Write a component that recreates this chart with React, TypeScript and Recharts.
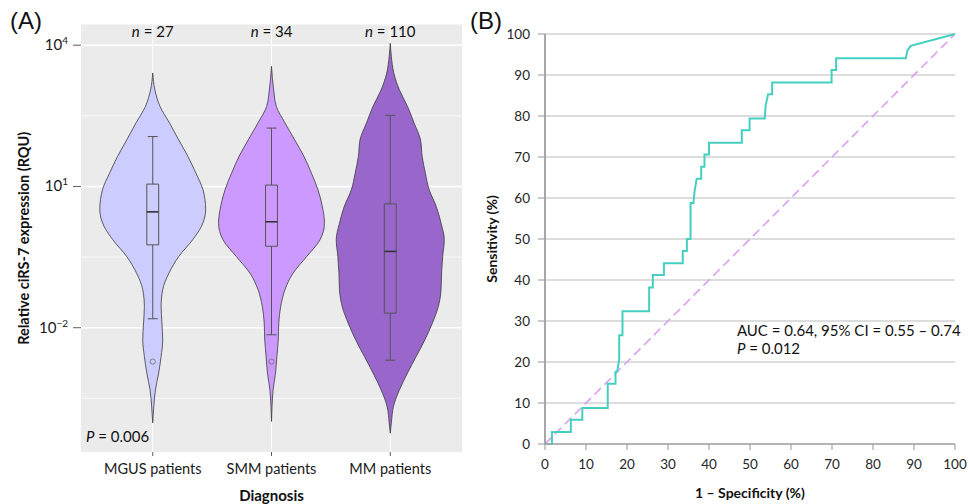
import React from 'react';
import {
  ComposedChart,
  LineChart,
  Line,
  Area,
  XAxis,
  YAxis,
  CartesianGrid,
  ReferenceLine,
  ReferenceArea,
  ReferenceDot,
} from 'recharts';

const FONT = "Lato, 'Open Sans', sans-serif";

// ---------- panel A: violin plots (values in log10 RQU) ----------
const groups = ['MGUS patients', 'SMM patients', 'MM patients'];
const groupN = [27, 34, 110];
const groupFill = ['#ccccff', '#cc99ff', '#9966cc'];

// [log10 RQU, relative half-width of the violin]
const mgusViolin = [
  [3.41, 0], [3.05, 0.04], [2.7, 0.135], [2.35, 0.31], [1.99, 0.48], [1.64, 0.65],
  [1.28, 0.8], [0.93, 0.93], [0.51, 0.98], [0.15, 0.9], [-0.13, 0.74], [-0.49, 0.48],
  [-0.84, 0.3], [-1.19, 0.185], [-1.55, 0.155], [-1.9, 0.17], [-2.26, 0.185],
  [-2.61, 0.155], [-2.96, 0.11], [-3.32, 0.05], [-3.67, 0.02], [-4.02, 0],
];
const smmViolin = [
  [3.55, 0], [3.05, 0.04], [2.7, 0.09], [2.35, 0.25], [1.99, 0.43], [1.64, 0.6],
  [1.28, 0.74], [0.93, 0.86], [0.58, 0.94], [0.22, 0.98], [-0.13, 0.9], [-0.49, 0.65],
  [-0.84, 0.4], [-1.19, 0.25], [-1.55, 0.17], [-1.9, 0.135], [-2.26, 0.125],
  [-2.61, 0.1], [-2.96, 0.075], [-3.32, 0.03], [-3.67, 0.01], [-3.99, 0],
];
const mmViolin = [
  [4.04, 0], [3.76, 0.02], [3.41, 0.065], [3.05, 0.17], [2.7, 0.32], [2.35, 0.44],
  [1.99, 0.56], [1.64, 0.59], [1.28, 0.65], [0.93, 0.72], [0.58, 0.85], [0.22, 0.94],
  [-0.13, 1], [-0.49, 0.97], [-0.84, 0.95], [-1.19, 0.94], [-1.55, 0.89], [-1.9, 0.78],
  [-2.26, 0.64], [-2.61, 0.48], [-2.96, 0.32], [-3.32, 0.17], [-3.67, 0.06],
  [-4.02, 0.02], [-4.24, 0],
];

// [lower whisker, Q1, median, Q3, upper whisker]
const mgusBox = [-1.81, -0.24, 0.46, 1.05, 2.06];
const smmBox = [-2.15, -0.27, 0.25, 1.03, 2.24];
const mmBox = [-2.69, -1.69, -0.38, 0.63, 2.51];

// [group position, log10 RQU]
const outliers = [[1, -2.72], [2, -2.72]];

const logTicks = [-3.5, -2, -0.5, 1, 2.5, 4];
const majorLogTicks = [-2, 1, 4];

const violins = [mgusViolin, smmViolin, mmViolin];
const boxes = [mgusBox, smmBox, mmBox];
const violinRows = violins.flatMap((v, g) => v.map(([lv, d]) => ({ lv, g, d })));

const VW = 0.455;
const BOX_W = 0.05;
const CAP_W = 0.042;

// ---------- panel B: ROC curve ----------
const rocFpr = [
  0, 1.7, 1.7, 6.3, 6.3, 9.1, 9.1, 15.3, 15.3, 17.2, 17.2, 17.6, 18.1, 18.1, 18.9, 18.9,
  25.4, 25.4, 26.3, 26.3, 29, 29, 33.6, 33.6, 34.6, 34.6, 35.5, 35.5, 36.2, 36.5, 37,
  38.1, 38.1, 38.9, 38.9, 40, 40, 48, 48, 49.9, 49.9, 53.6, 53.8, 54.4, 55.4, 55.4,
  69.9, 69.9, 71, 71, 88, 88.4, 89.2, 100,
];
const rocSens = [
  0, 0, 2.9, 2.9, 5.9, 5.9, 8.8, 8.8, 14.7, 14.7, 17.6, 17.6, 20.6, 26.5, 26.5, 32.4,
  32.4, 38.2, 38.2, 41.2, 41.2, 44.1, 44.1, 47.1, 47.1, 50, 50, 58.8, 58.8, 61.8, 64.7,
  64.7, 67.6, 67.6, 70.6, 70.6, 73.5, 73.5, 76.5, 76.5, 79.4, 79.4, 82.4, 85.3, 85.3, 88.2,
  88.2, 91.2, 91.2, 94.1, 94.1, 96, 97.1, 100,
];
const rocRows = rocFpr.map((fpr, i) => ({ fpr, sens: rocSens[i] }));
const pctTicks = [0, 10, 20, 30, 40, 50, 60, 70, 80, 90, 100];

const LogTick = (props: any) => {
  const { x, y, payload } = props;
  if (!majorLogTicks.includes(payload.value)) return <g />;
  const exp = payload.value < 0 ? `\u2212${-payload.value}` : `${payload.value}`;
  return (
    <g>
      <line x1={x + 5} x2={x + 13} y1={y} y2={y} stroke="#333" strokeWidth={0.8} />
      <text x={x} y={y + 5} textAnchor="end" fontSize={15} fill="#1a1a1a" fontFamily={FONT}>
        10<tspan dy={-6} fontSize={10}>{exp}</tspan>
      </text>
    </g>
  );
};

const gridH = (p: any) => {
  const v = logTicks[p.index];
  if (v === undefined) return <g key={`h${p.index}`} />;
  const major = majorLogTicks.includes(v);
  return (
    <line key={`h${p.index}`} x1={p.x1} x2={p.x2} y1={p.y1} y2={p.y2}
      stroke="#fff" strokeWidth={major ? 1.4 : 0.7} />
  );
};

const gridV = (p: any) => {
  if (p.index > 2) return <g key={`v${p.index}`} />;
  return <line key={`v${p.index}`} x1={p.x1} x2={p.x2} y1={p.y1} y2={p.y2} stroke="#fff" strokeWidth={1} />;
};

const panelTag: React.CSSProperties = {
  position: 'absolute',
  top: 9,
  fontSize: 24,
  lineHeight: '24px',
  fontFamily: "'Liberation Sans', Arial, sans-serif",
  color: '#111',
};

export default function App() {
  return (
    <div style={{ position: 'absolute', left: 0, top: 0, width: 969, height: 504, background: '#fff', fontFamily: FONT }}>
      <div style={{ ...panelTag, left: 10 }}>(A)</div>
      <div style={{ ...panelTag, left: 470 }}>(B)</div>

      <div style={{ position: 'absolute', left: 0, top: 0 }}>
        <ComposedChart layout="vertical" width={470} height={504} data={violinRows}
          margin={{ top: 24.5, right: 8, bottom: 0, left: 0 }}>
          <CartesianGrid fill="#ebebeb" fillOpacity={1} horizontal={gridH} vertical={gridV} />
          <XAxis type="number" domain={[0.396, 3.604]} allowDataOverflow ticks={[1, 2, 3]} interval={0}
            tickFormatter={(v: number) => groups[v - 1]} height={52} axisLine={false}
            tickSize={4} tickMargin={8} tickLine={{ stroke: '#333', strokeWidth: 0.8 }}
            tick={{ fontSize: 14.5, fill: '#1a1a1a', fontFamily: FONT }}
            label={{ value: 'Diagnosis', position: 'insideBottom', offset: 3, fontSize: 15, fontWeight: 700, fill: '#111', fontFamily: FONT }} />
          <YAxis type="number" dataKey="lv" domain={[-4.64, 4.44]} allowDataOverflow reversed
            ticks={logTicks} interval={0} width={81} axisLine={false} tickLine={false}
            tickSize={8} tickMargin={5} tick={<LogTick />}
            label={{ value: 'Relative ciRS-7 expression (RQU)', angle: -90, position: 'insideLeft', offset: 24, fontSize: 14.5, fontWeight: 700, fill: '#111', fontFamily: FONT, style: { textAnchor: 'middle' } }} />
          {violins.map((_, g) => (
            <Area key={`violin${g}`} name={groups[g]}
              dataKey={(r: any) => (r.g === g ? [g + 1 - r.d * VW, g + 1 + r.d * VW] : [null, null])}
              type="monotone" connectNulls fill={groupFill[g]} fillOpacity={1}
              stroke="#3a3a3a" strokeWidth={0.8} dot={false} activeDot={false} isAnimationActive={false} />
          ))}
          {boxes.map(([lo, q1, med, q3, hi], g) => (
            <React.Fragment key={`box${g}`}>
              <ReferenceLine segment={[{ x: g + 1, y: lo }, { x: g + 1, y: q1 }]} stroke="#555" strokeWidth={1} />
              <ReferenceLine segment={[{ x: g + 1, y: q3 }, { x: g + 1, y: hi }]} stroke="#555" strokeWidth={1} />
              <ReferenceLine segment={[{ x: g + 1 - CAP_W, y: lo }, { x: g + 1 + CAP_W, y: lo }]} stroke="#555" strokeWidth={1} />
              <ReferenceLine segment={[{ x: g + 1 - CAP_W, y: hi }, { x: g + 1 + CAP_W, y: hi }]} stroke="#555" strokeWidth={1} />
              <ReferenceArea x1={g + 1 - BOX_W} x2={g + 1 + BOX_W} y1={q1} y2={q3} fill="none" stroke="#555" strokeWidth={1} />
              <ReferenceLine segment={[{ x: g + 1 - BOX_W, y: med }, { x: g + 1 + BOX_W, y: med }]} stroke="#333" strokeWidth={1.6} />
            </React.Fragment>
          ))}
          {outliers.map(([gx, lv], i) => (
            <ReferenceDot key={`out${i}`} x={gx} y={lv} r={2.6} fill="none" stroke="#777" strokeWidth={0.9} />
          ))}
          {groupN.map((n, g) => (
            <ReferenceDot key={`n${g}`} x={g + 1} y={4.17} r={0} stroke="none"
              label={(p: any) => (
                <text x={p.viewBox.x} y={p.viewBox.y} textAnchor="middle" fontSize={15} fill="#111" fontFamily={FONT}>
                  <tspan fontStyle="italic">n</tspan> = {n}
                </text>
              )} />
          ))}
          <ReferenceDot x={0.438} y={-4.435} r={0} stroke="none"
            label={(p: any) => (
              <text x={p.viewBox.x} y={p.viewBox.y} textAnchor="start" fontSize={15} fill="#111" fontFamily={FONT}>
                <tspan fontStyle="italic">P</tspan> = 0.006
              </text>
            )} />
        </ComposedChart>
      </div>

      <div style={{ position: 'absolute', left: 480, top: 0 }}>
        <LineChart width={489} height={504} data={rocRows} margin={{ top: 34, right: 14, bottom: 0, left: 0 }}>
          <CartesianGrid vertical={false} stroke="#d2d2d2" strokeWidth={1.5} />
          <XAxis dataKey="fpr" type="number" domain={[0, 100]} ticks={pctTicks} interval={0} height={60}
            tickSize={6} tickMargin={9} axisLine={{ stroke: '#a6a6a6', strokeWidth: 1.5 }}
            tickLine={{ stroke: '#a6a6a6', strokeWidth: 1.2 }}
            tick={{ fontSize: 13.5, fill: '#262626', fontFamily: FONT }}
            label={{ value: '1 \u2013 Specificity (%)', position: 'insideBottom', offset: 6, fontSize: 14, fontWeight: 700, fill: '#111', fontFamily: FONT }} />
          <YAxis type="number" domain={[0, 100]} ticks={pctTicks} interval={0} width={65}
            tickSize={7} tickMargin={8} axisLine={{ stroke: '#8a8a8a', strokeWidth: 1.5 }}
            tickLine={{ stroke: '#a6a6a6', strokeWidth: 1.2 }}
            tick={{ fontSize: 13.5, fill: '#262626', fontFamily: FONT }}
            label={{ value: 'Sensitivity (%)', angle: -90, position: 'insideLeft', offset: 12.5, fontSize: 14, fontWeight: 700, fill: '#111', fontFamily: FONT, style: { textAnchor: 'middle' } }} />
          <ReferenceLine segment={[{ x: 0, y: 0 }, { x: 100, y: 100 }]} stroke="#d99cf0" strokeWidth={1.5} strokeDasharray="9 5" />
          <Line dataKey="sens" type="linear" stroke="#45cfc0" strokeWidth={2} dot={false} activeDot={false} isAnimationActive={false} />
          <ReferenceDot x={46.8} y={26.3} r={0} stroke="none"
            label={(p: any) => (
              <text x={p.viewBox.x} y={p.viewBox.y} fontSize={15} fill="#111" fontFamily={FONT}>
                <tspan x={p.viewBox.x}>AUC = 0.64, 95% CI = 0.55 {'\u2013'} 0.74</tspan>
                <tspan x={p.viewBox.x} dy={17.7}><tspan fontStyle="italic">P</tspan> = 0.012</tspan>
              </text>
            )} />
        </LineChart>
      </div>
    </div>
  );
}
